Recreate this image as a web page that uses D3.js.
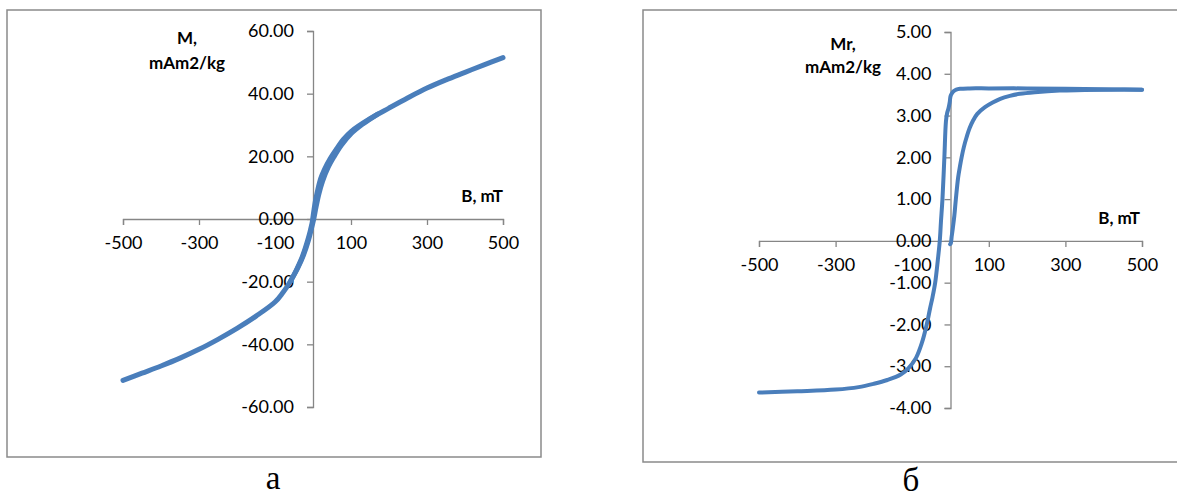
<!DOCTYPE html>
<html><head><meta charset="utf-8">
<script src="https://cdn.jsdelivr.net/npm/d3@7"></script>
<style>body{margin:0;background:#fff} svg{display:block}</style>
</head><body>
<svg id="c" width="1177" height="497"></svg>
<script>
// ---- data ----
const xTicks = [-500, -300, -100, 100, 300, 500];
const leftYTicks = [-60, -40, -20, 0, 20, 40, 60];
const rightYTicks = [-4, -3, -2, -1, 0, 1, 2, 3, 4, 5];

// left chart: M vs B (two nearly coincident branches)
const leftB = [-500,-450,-400,-350,-300,-250,-200,-150,-100,-80,-60,-45,-30,-20,-12,-6,-2,2,6,12,20,30,45,60,80,100,150,200,250,300,350,400,450,500];
const leftM = [-51.5,-49.2,-46.9,-44.4,-41.6,-38.4,-34.9,-31.0,-26.5,-23.6,-20.0,-16.6,-12.6,-9.2,-6.0,-3.2,-1.0,2.4,5.5,9.0,12.8,15.8,19.2,22.0,25.4,27.9,32.0,35.4,38.7,41.8,44.4,46.8,49.2,51.5];
const leftB2 = [-60,-40,-25,-12,-4,2,8,15,25,40,55,75,100,130,170];
const leftM2 = [-20.0,-15.6,-11.5,-6.8,-3.0,0.0,3.8,7.8,12.0,16.5,19.8,23.6,27.2,30.2,33.5];

// right chart: Mr vs B
const rDescB = [500,400,300,200,100,50,25,15,8,3,0,-2,-5,-9,-12,-16,-21,-25,-28,-33,-40,-47,-53,-62,-75,-90,-110,-130,-165,-200,-240,-300,-400,-500];
const rDescM = [3.62,3.63,3.64,3.65,3.65,3.65,3.64,3.62,3.58,3.52,3.46,3.32,3.18,3.05,2.85,2.0,1.0,0.45,0.0,-0.45,-1.0,-1.35,-1.6,-2.0,-2.45,-2.8,-3.05,-3.2,-3.33,-3.42,-3.5,-3.56,-3.6,-3.63];
const rAscB = [-1,1,3,6,10,14,20,25,29,35,42,50,59,70,90,110,130,155,181,220,285,350,420,500];
const rAscM = [-0.08,-0.05,0.1,0.3,0.6,1.0,1.52,1.8,2.0,2.25,2.48,2.7,2.88,3.04,3.2,3.31,3.4,3.47,3.52,3.56,3.6,3.61,3.62,3.62];

const svg = d3.select("#c");
const blue = "#4a7ebb";
const axisCol = "#868686";
const font = "Lato, 'Open Sans', sans-serif";
const hy = s => s.replace("\u2212","-");

// frames
svg.append("rect").attr("x",7).attr("y",10).attr("width",534).attr("height",447)
  .attr("fill","#fff").attr("stroke","#8a8a8a").attr("stroke-width",1.5);
svg.append("rect").attr("x",643).attr("y",10).attr("width",560).attr("height",452)
  .attr("fill","#fff").attr("stroke","#8a8a8a").attr("stroke-width",1.5);

function panel(opt){
  const x = d3.scaleLinear().domain([-500,500]).range(opt.xr);
  const y = d3.scaleLinear().domain(opt.yd).range(opt.yr);
  const g = svg.append("g");
  const xa = g.append("g").attr("transform",`translate(0,${y(0)})`)
    .call(d3.axisBottom(x).tickValues(xTicks).tickSize(6).tickPadding(11).tickFormat(d=>hy(d3.format("d")(d))));
  const ya = g.append("g").attr("transform",`translate(${x(0)},0)`)
    .call(d3.axisLeft(y).tickValues(opt.yt).tickSize(6).tickPadding(13).tickFormat(d=>hy(d3.format(".2f")(d))));
  [xa,ya].forEach(a=>{
    a.select(".domain").attr("stroke",axisCol).attr("stroke-width",1.3);
    a.selectAll(".tick line").attr("stroke",axisCol).attr("stroke-width",1.3);
    a.selectAll("text").attr("font-family",font).attr("font-size",18).attr("fill","#000");
  });
  const line = d3.line().curve(d3.curveCatmullRom.alpha(0.5)).x(d=>x(d[0])).y(d=>y(d[1]));
  opt.series.forEach(s=>{
    g.append("path").attr("d",line(d3.zip(s[0],s[1])))
      .attr("fill","none").attr("stroke",blue).attr("stroke-width",opt.sw)
      .attr("stroke-linejoin","round").attr("stroke-linecap","round");
  });
  // titles
  const t = g.append("g").attr("font-family",font).attr("font-weight","bold").attr("font-size",17).attr("fill","#000");
  t.append("text").attr("x",opt.ttx).attr("y",opt.tty1).attr("text-anchor","middle").attr("dominant-baseline","central").text(opt.t1);
  t.append("text").attr("x",opt.ttx).attr("y",opt.tty2).attr("text-anchor","middle").attr("dominant-baseline","central").text("mAm2/kg");
  t.append("text").attr("x",opt.bx).attr("y",opt.by).attr("text-anchor","end").attr("dominant-baseline","central").text("B, mT");
  svg.append("text").attr("x",opt.capx).attr("y",opt.capy).attr("text-anchor","middle")
    .attr("font-family","'Liberation Serif', 'DejaVu Serif', serif").attr("font-size",33).text(opt.cap);
}

panel({xr:[123,503], yd:[-60,60], yr:[407,31], yt:leftYTicks, sw:5,
  series:[[leftB,leftM],[leftB2,leftM2]], t1:"M,", ttx:187, tty1:37, tty2:62, bx:503, by:195,
  cap:"а", capx:273, capy:489});
panel({xr:[759,1142], yd:[-4,5], yr:[408,32], yt:rightYTicks, sw:4,
  series:[[rDescB,rDescM],[rAscB,rAscM]], t1:"Mr,", ttx:843, tty1:43, tty2:66, bx:1140, by:217,
  cap:"б", capx:911, capy:491});
</script>
</body></html>
